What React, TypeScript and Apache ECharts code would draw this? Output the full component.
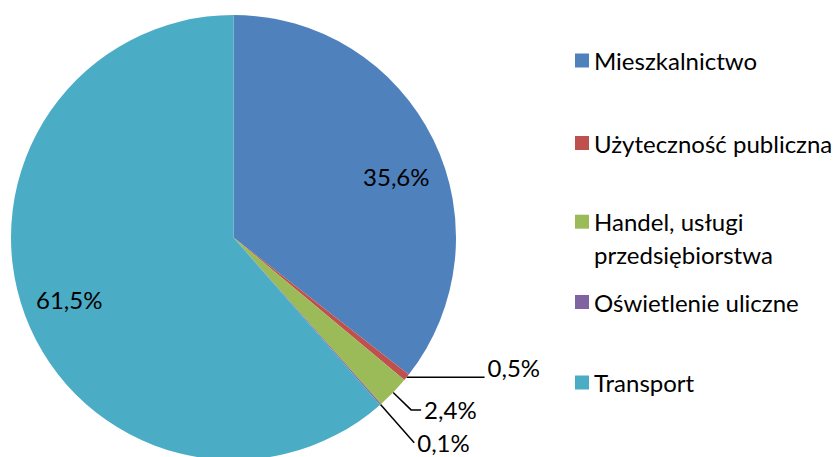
import React, { useEffect, useRef } from "react";
import * as echarts from "echarts";

const categories = [
  "Mieszkalnictwo",
  "Użyteczność publiczna",
  "Handel, usługi przedsiębiorstwa",
  "Oświetlenie uliczne",
  "Transport",
];
const values = [35.6, 0.5, 2.4, 0.1, 61.5];
const colors = ["#4F81BD", "#C0504D", "#9BBB59", "#8064A2", "#4BACC6"];

const FONT = "Lato";
const FS = 24;
const fmt = (v: number) => v.toFixed(1).replace(".", ",") + "%";

export default function App() {
  const ref = useRef<HTMLDivElement>(null);
  useEffect(() => {
    if (!ref.current) return;
    const chart = echarts.init(ref.current, undefined, { renderer: "svg" });
    const lineLen = [0, 0, 25, 51, 0];
    const lineLen2 = [0, 78, 10, 0, 0];
    const legendCenters = [60.5, 143, 221.7, 302, 382.5];
    const legends = categories.map((name, i) => {
      const multi = i === 2;
      const lh = multi ? 33 : 28;
      return {
        data: [name],
        orient: "vertical",
        left: 575,
        top: multi ? legendCenters[i] - lh * 1.5 : legendCenters[i] - lh / 2,
        padding: 0,
        itemWidth: 14,
        itemHeight: 14,
        itemGap: 0,
        icon: "rect",
        selectedMode: false,
        formatter: multi ? () => "\nHandel, usługi\nprzedsiębiorstwa" : undefined,
        textStyle: {
          fontFamily: FONT,
          fontSize: FS,
          color: "#000",
          lineHeight: lh,
        },
      };
    });
    chart.setOption({
      animation: false,
      legend: legends,
      series: [
        {
          type: "pie",
          center: [233.5, 237.5],
          radius: 222.5,
          startAngle: 90,
          clockwise: true,
          avoidLabelOverlap: false,
          silent: true,
          label: {
            position: "outside",
            color: "#000",
            fontFamily: FONT,
            fontSize: FS,
            distanceToLabelLine: 3,
            formatter: (p: any) => fmt(p.value),
          },
          labelLine: { lineStyle: { color: "#000", width: 1.5 } },
          labelLayout: (p: any) => (p.dataIndex === 1 ? { dy: -10 } : {}),
          data: categories.map((name, i) => ({
            name,
            value: values[i],
            itemStyle: { color: colors[i] },
            label: { show: values[i] < 5 },
            labelLine: { show: values[i] < 5, length: lineLen[i], length2: lineLen2[i] },
          })),
        },
        {
          type: "pie",
          center: [233.5, 237.5],
          radius: [0, 345],
          startAngle: 90,
          clockwise: true,
          silent: true,
          z: 5,
          label: {
            position: "inside",
            color: "#000",
            fontFamily: FONT,
            fontSize: FS,
            formatter: (p: any) => fmt(p.value),
          },
          labelLayout: (p: any) => (p.dataIndex === 0 ? { dx: 5, dy: 16 } : {}),
          labelLine: { show: false },
          data: categories.map((name, i) => ({
            name,
            value: values[i],
            itemStyle: { color: "rgba(0,0,0,0)" },
            label: { show: values[i] >= 5 },
          })),
        },
      ],
    });
    return () => chart.dispose();
  }, []);
  return (
    <div
      ref={ref}
      style={{ position: "fixed", left: 0, top: 0, width: 839, height: 457, background: "#fff" }}
    />
  );
}
